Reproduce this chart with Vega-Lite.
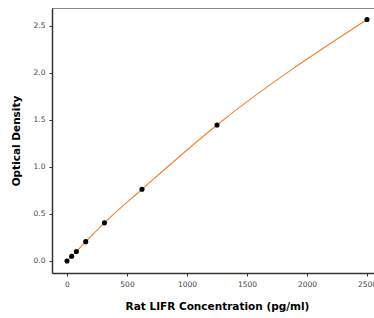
{
  "$schema": "https://vega.github.io/schema/vega-lite/v6.json",
  "width": 330,
  "height": 265,
  "autosize": "none",
  "padding": {"left": 52, "top": 8, "right": 0, "bottom": 45},
  "background": "white",
  "config": {
    "view": {"stroke": "#888888", "strokeWidth": 1},
    "font": "DejaVu Sans",
    "axis": {
      "grid": false,
      "domainColor": "#333333",
      "domainWidth": 1.5,
      "tickColor": "#333333",
      "tickSize": 3,
      "labelFontSize": 7.5,
      "labelColor": "#444444",
      "titleFontSize": 10.5,
      "titleFontWeight": "bold",
      "titleColor": "#000000"
    }
  },
  "data": {
    "values": [
      {"conc": 0, "od": 0.0},
      {"conc": 39, "od": 0.05},
      {"conc": 78, "od": 0.1},
      {"conc": 156, "od": 0.205},
      {"conc": 312, "od": 0.405},
      {"conc": 625, "od": 0.762},
      {"conc": 1250, "od": 1.445},
      {"conc": 2500, "od": 2.565}
    ]
  },
  "encoding": {
    "x": {
      "field": "conc",
      "type": "quantitative",
      "scale": {"domain": [-125, 2625], "nice": false, "zero": false},
      "axis": {"values": [0, 500, 1000, 1500, 2000, 2500], "format": "d", "title": "Rat LIFR Concentration (pg/ml)", "titlePadding": 14, "labelPadding": 4}
    },
    "y": {
      "field": "od",
      "type": "quantitative",
      "scale": {"domain": [-0.128, 2.688], "nice": false, "zero": false},
      "axis": {"values": [0, 0.5, 1, 1.5, 2, 2.5], "format": ".1f", "title": "Optical Density", "titlePadding": 12, "labelPadding": 4}
    }
  },
  "layer": [
    {
      "mark": {"type": "line", "interpolate": "monotone", "color": "#f08030", "strokeWidth": 1.1}
    },
    {
      "mark": {"type": "point", "filled": true, "color": "#000000", "size": 26, "opacity": 1}
    }
  ]
}
